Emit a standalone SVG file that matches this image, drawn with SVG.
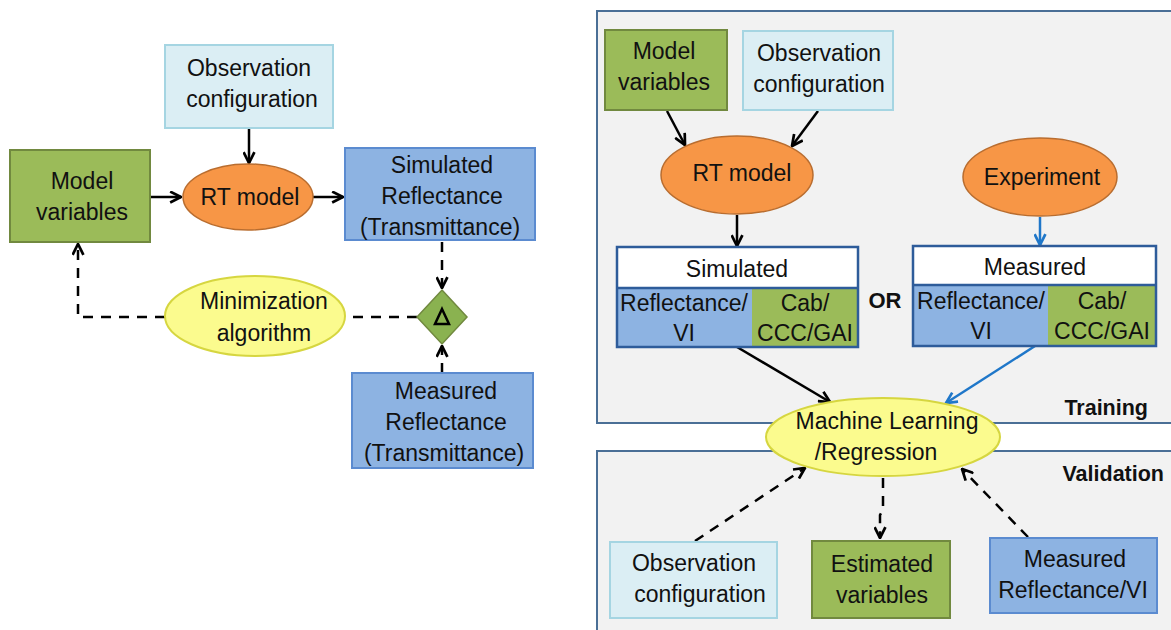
<svg xmlns="http://www.w3.org/2000/svg" width="1171" height="630" viewBox="0 0 1171 630">
<defs>
<style>
text{font-family:"Liberation Sans",Arial,sans-serif;font-size:23px;fill:#111;text-anchor:middle}
.b{font-weight:bold;font-size:21.5px}
.green{fill:#9bbb59;stroke:#71893f;stroke-width:2}
.blue{fill:#8db3e2;stroke:#5b8bd0;stroke-width:2}
.lblue{fill:#dbeef4;stroke:#a5d5e2;stroke-width:2}
.orange{fill:#f79646;stroke:#b96d2f;stroke-width:1.5}
.yellow{fill:#fbfb8e;stroke:#d6d640;stroke-width:2}
.panel{fill:#f2f2f2;stroke:#4a6f96;stroke-width:2}
.c{fill:none;stroke:#000;stroke-width:2.5}
.d{stroke-dasharray:10,8}
.bl{stroke:#1f77c9}
.comp{fill:none;stroke:#2e5c9a;stroke-width:2.5}
</style>
<marker id="ah" viewBox="0 0 12 12" refX="11" refY="6" markerWidth="13" markerHeight="13" markerUnits="userSpaceOnUse" orient="auto"><path d="M1,1 L11,6 L1,11" fill="none" stroke="#000" stroke-width="2.5"/></marker>
<marker id="ahb" viewBox="0 0 12 12" refX="11" refY="6" markerWidth="13" markerHeight="13" markerUnits="userSpaceOnUse" orient="auto"><path d="M1,1 L11,6 L1,11" fill="none" stroke="#1f77c9" stroke-width="2.5"/></marker>
</defs>
<rect width="1171" height="630" fill="#fff"/>

<g id="panel-training"><rect class="panel" x="597" y="11" width="590" height="412"/><text class="b" x="1148" y="415" style="text-anchor:end">Training</text></g>
<g id="panel-validation"><rect class="panel" x="597" y="451" width="590" height="200"/><text class="b" x="1164" y="481" style="text-anchor:end">Validation</text></g>

<g id="connectors">
<line class="c" x1="249" y1="128" x2="249" y2="163" marker-end="url(#ah)"/>
<line class="c" x1="150" y1="197" x2="181" y2="197" marker-end="url(#ah)"/>
<line class="c" x1="313" y1="197" x2="343" y2="197" marker-end="url(#ah)"/>
<line class="c d" x1="442" y1="242" x2="442" y2="288" marker-end="url(#ah)"/>
<line class="c d" x1="442" y1="373" x2="442" y2="346" marker-end="url(#ah)"/>
<line class="c d" x1="417" y1="317" x2="345" y2="317"/>
<polyline class="c d" points="165,317 78,317 78,244" marker-end="url(#ah)"/>
<line class="c" x1="667" y1="111" x2="685" y2="145" marker-end="url(#ah)"/>
<line class="c" x1="818" y1="111" x2="792" y2="146" marker-end="url(#ah)"/>
<line class="c" x1="737" y1="215" x2="737" y2="246" marker-end="url(#ah)"/>
<line class="c bl" x1="1040" y1="217" x2="1040" y2="245" marker-end="url(#ahb)"/>
<line class="c" x1="737" y1="347" x2="830" y2="402" marker-end="url(#ah)"/>
<line class="c bl" x1="1035" y1="346" x2="946" y2="403" marker-end="url(#ahb)"/>
<line class="c d" x1="695" y1="541" x2="805" y2="468" marker-end="url(#ah)"/>
<polyline class="c d" points="883,478 883,510 880,515 880,538" marker-end="url(#ah)"/>
<line class="c d" x1="1028" y1="537" x2="962" y2="469" marker-end="url(#ah)"/>
</g>

<g id="l-obs"><rect class="lblue" x="165" y="45" width="168" height="83"/><text x="249" y="76">Observation</text><text x="252" y="107">configuration</text></g>
<g id="l-model"><rect class="green" x="10" y="150" width="140" height="92"/><text x="82" y="189">Model</text><text x="82" y="220">variables</text></g>
<g id="l-rt"><ellipse class="orange" cx="248" cy="197" rx="65" ry="33"/><text x="250" y="205">RT model</text></g>
<g id="l-sim"><rect class="blue" x="345" y="148" width="190" height="92"/><text x="442" y="173">Simulated</text><text x="442" y="204">Reflectance</text><text x="440" y="235">(Transmittance)</text></g>
<g id="l-diamond"><polygon points="442,290 467,317 442,344 417,317" fill="#8ab250" stroke="#71893f" stroke-width="1.5"/><polygon points="442,309 449,324 435,324" fill="none" stroke="#000" stroke-width="2.5"/></g>
<g id="l-min"><ellipse class="yellow" cx="255" cy="316" rx="90" ry="40"/><text x="264" y="309">Minimization</text><text x="264" y="341">algorithm</text></g>
<g id="l-meas"><rect class="blue" x="352" y="373" width="181" height="95"/><text x="446" y="399">Measured</text><text x="446" y="430">Reflectance</text><text x="444" y="461">(Transmittance)</text></g>

<g id="r-model"><rect class="green" x="605" y="30" width="122" height="80"/><text x="664" y="59">Model</text><text x="664" y="90">variables</text></g>
<g id="r-obs"><rect class="lblue" x="743" y="31" width="150" height="79"/><text x="819" y="61">Observation</text><text x="819" y="92">configuration</text></g>
<g id="r-rt"><ellipse class="orange" cx="737" cy="175" rx="76" ry="39"/><text x="742" y="181">RT model</text></g>
<g id="r-exp"><ellipse class="orange" cx="1040" cy="177" rx="77" ry="39"/><text x="1042" y="185">Experiment</text></g>
<g id="r-sim">
<rect x="617" y="247" width="241" height="41" fill="#fff"/>
<rect x="617" y="288" width="135" height="59" fill="#8db3e2"/>
<rect x="752" y="288" width="106" height="59" fill="#9bbb59"/>
<rect class="comp" x="617" y="247" width="241" height="100"/>
<line x1="617" y1="288" x2="858" y2="288" stroke="#2e5c9a" stroke-width="2.5"/>
<text x="737" y="277">Simulated</text><text x="684" y="311">Reflectance/</text><text x="684" y="341">VI</text><text x="805" y="311">Cab/</text><text x="805" y="341">CCC/GAI</text>
</g>
<g id="r-or"><text class="b" x="885" y="308" style="font-size:22px">OR</text></g>
<g id="r-meas">
<rect x="913" y="246" width="243" height="39" fill="#fff"/>
<rect x="913" y="285" width="135" height="61" fill="#8db3e2"/>
<rect x="1048" y="285" width="108" height="61" fill="#9bbb59"/>
<rect class="comp" x="913" y="246" width="243" height="100"/>
<line x1="913" y1="285" x2="1156" y2="285" stroke="#2e5c9a" stroke-width="2.5"/>
<text x="1035" y="275">Measured</text><text x="981" y="309">Reflectance/</text><text x="981" y="339">VI</text><text x="1102" y="309">Cab/</text><text x="1102" y="339">CCC/GAI</text>
</g>
<g id="r-ml"><ellipse class="yellow" cx="883" cy="437" rx="117" ry="39"/><text x="887" y="429">Machine Learning</text><text x="876" y="460">/Regression</text></g>
<g id="v-obs"><rect class="lblue" x="610" y="542" width="167" height="76"/><text x="694" y="571">Observation</text><text x="700" y="602">configuration</text></g>
<g id="v-est"><rect class="green" x="812" y="541" width="138" height="77"/><text x="882" y="572">Estimated</text><text x="882" y="603">variables</text></g>
<g id="v-meas"><rect class="blue" x="990" y="538" width="167" height="75"/><text x="1075" y="567">Measured</text><text x="1073" y="598">Reflectance/VI</text></g>
</svg>
